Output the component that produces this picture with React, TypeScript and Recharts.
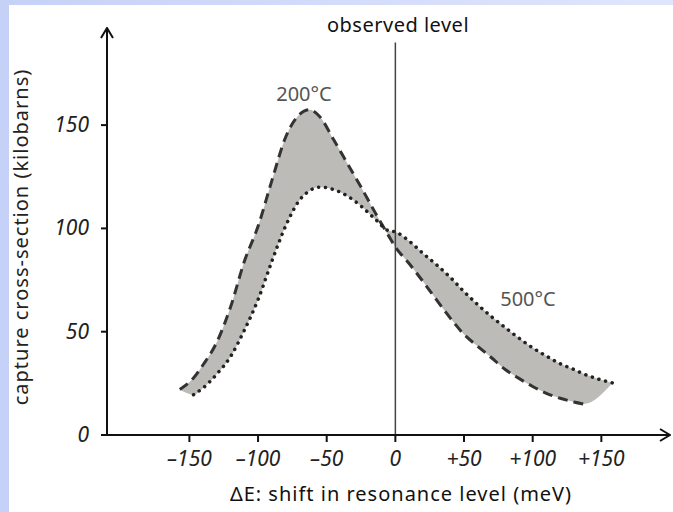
import { ComposedChart, Area, Line, XAxis, YAxis, ReferenceLine } from "recharts";

const shiftMeV = [
  -157, -147, -140, -130, -120, -110, -100, -90, -80, -70, -63, -55, -45, -35, -25, -15, -5, 0,
  10, 20, 30, 40, 50, 60, 70, 80, 90, 100, 110, 120, 130, 137, 158,
];
// capture cross-section (kilobarns) at 200°C — dashed curve
const sigma200 = [
  22, 27.6, 34, 45, 62, 84, 101, 123, 144, 155, 157.5, 154, 143, 131.5, 120, 108, 96.5, 91,
  83, 74.4, 65.4, 56.6, 48.7, 42.9, 37.4, 31.7, 27.4, 23.5, 20.2, 17.8, 16, 15, null,
];
// capture cross-section (kilobarns) at 500°C — dotted curve
const sigma500 = [
  null, 19.5, 22.8, 29.5, 38, 50.7, 65.5, 84, 101, 113.5, 118, 120, 118.8, 115.7, 110.8, 104.7, 98.9, 98.3,
  93.9, 88, 82.4, 76.3, 69.4, 63.1, 57.3, 52, 46.9, 42.2, 38.2, 34.5, 31.7, 29.6, 25.2,
];
const xTicks = [-150, -100, -50, 0, 50, 100, 150];
const yTicks = [0, 50, 100, 150];

const data = shiftMeV.map((x, i) => {
  const a = sigma200[i];
  const b = sigma500[i];
  return { x, s200: a, s500: b, band: [a ?? b, b ?? a] };
});

const FONT = "'Noto Sans', 'DejaVu Sans', sans-serif";

const fmtX = (v: number) => (v > 0 ? `+${v}` : v < 0 ? `\u2013${Math.abs(v)}` : "0");

function XTick({ x, y, payload }: any) {
  return (
    <text x={x} y={y} dy={20} textAnchor="middle" fontFamily={FONT} fontSize={21} fontStyle="italic" fill="#222">
      {fmtX(payload.value)}
    </text>
  );
}

function YTick({ x, y, payload }: any) {
  return (
    <text x={x} y={y} dy={7} textAnchor="end" fontFamily={FONT} fontSize={21} fontStyle="italic" fill="#222">
      {payload.value}
    </text>
  );
}

export default function App() {
  return (
    <div
      style={{
        position: "relative",
        width: 673,
        height: 512,
        overflow: "hidden",
        background: "linear-gradient(90deg, #c6d1f8 0%, #dfe6fc 100%)",
      }}
    >
      <style>{"body{margin:0}"}</style>
      <svg width={0} height={0} style={{ position: "absolute" }}>
        <defs>
          <marker id="arrowHead" viewBox="0 0 12 14" refX={11} refY={7} markerWidth={12} markerHeight={14}
            markerUnits="userSpaceOnUse" orient="auto-start-reverse">
            <path d="M1,1 L11,7 L1,13" fill="none" stroke="#111" strokeWidth={2} />
          </marker>
        </defs>
      </svg>
      <div style={{ position: "absolute", left: 9, top: 5, right: 0, bottom: 0, background: "#fff" }} />

      <div style={{ position: "absolute", left: 0, top: 0 }}>
        <ComposedChart width={673} height={512} data={data} margin={{ top: 28, right: 3, bottom: 0, left: 0 }}>
          <XAxis
            dataKey="x"
            type="number"
            domain={[-210, 200]}
            ticks={xTicks}
            allowDataOverflow
            height={77}
            tickSize={7}
            tickMargin={4}
            tick={<XTick />}
            tickLine={{ stroke: "#111", strokeWidth: 2 }}
            axisLine={{ stroke: "#111", strokeWidth: 2, markerEnd: "url(#arrowHead)" }}
          />
          <YAxis
            type="number"
            domain={[0, 197]}
            ticks={yTicks}
            allowDataOverflow
            width={107}
            tickSize={6}
            tickMargin={12}
            tick={<YTick />}
            tickLine={{ stroke: "#111", strokeWidth: 2 }}
            axisLine={{ stroke: "#111", strokeWidth: 2, markerStart: "url(#arrowHead)" }}
          />
          <Area
            type="monotone"
            dataKey="band"
            fill="#bdbbb8"
            fillOpacity={1}
            stroke="none"
            isAnimationActive={false}
          />
          <ReferenceLine
            segment={[{ x: 0, y: 0 }, { x: 0, y: 190 }]}
            stroke="#444"
            strokeWidth={1.5}
          />
          <Line
            type="monotone"
            dataKey="s200"
            stroke="#333"
            strokeWidth={3}
            strokeDasharray="10 6"
            dot={false}
            connectNulls
            isAnimationActive={false}
          />
          <Line
            type="monotone"
            dataKey="s500"
            stroke="#222"
            strokeWidth={3.5}
            strokeDasharray="0.1 6.8"
            strokeLinecap="round"
            dot={false}
            connectNulls
            isAnimationActive={false}
          />
        </ComposedChart>
      </div>

      <div style={{ position: "absolute", left: 398, top: 11, transform: "translateX(-50%)", fontFamily: FONT, fontSize: 20, letterSpacing: 0.5, color: "#111", whiteSpace: "nowrap" }}>
        observed level
      </div>
      <div style={{ position: "absolute", left: 304, top: 80, transform: "translateX(-50%)", fontFamily: FONT, fontSize: 20, color: "#555", whiteSpace: "nowrap" }}>
        200°C
      </div>
      <div style={{ position: "absolute", left: 528, top: 285, transform: "translateX(-50%)", fontFamily: FONT, fontSize: 20, color: "#555", whiteSpace: "nowrap" }}>
        500°C
      </div>
      <div style={{ position: "absolute", left: 401, top: 480, transform: "translateX(-50%)", fontFamily: FONT, fontSize: 20, letterSpacing: 1, color: "#111", whiteSpace: "nowrap" }}>
        ΔE: shift in resonance level (meV)
      </div>
      <div style={{ position: "absolute", left: 20, top: 237, transform: "translate(-50%, -50%) rotate(-90deg)", fontFamily: FONT, fontSize: 20, letterSpacing: 1, color: "#222", whiteSpace: "nowrap" }}>
        capture cross-section (kilobarns)
      </div>
    </div>
  );
}
